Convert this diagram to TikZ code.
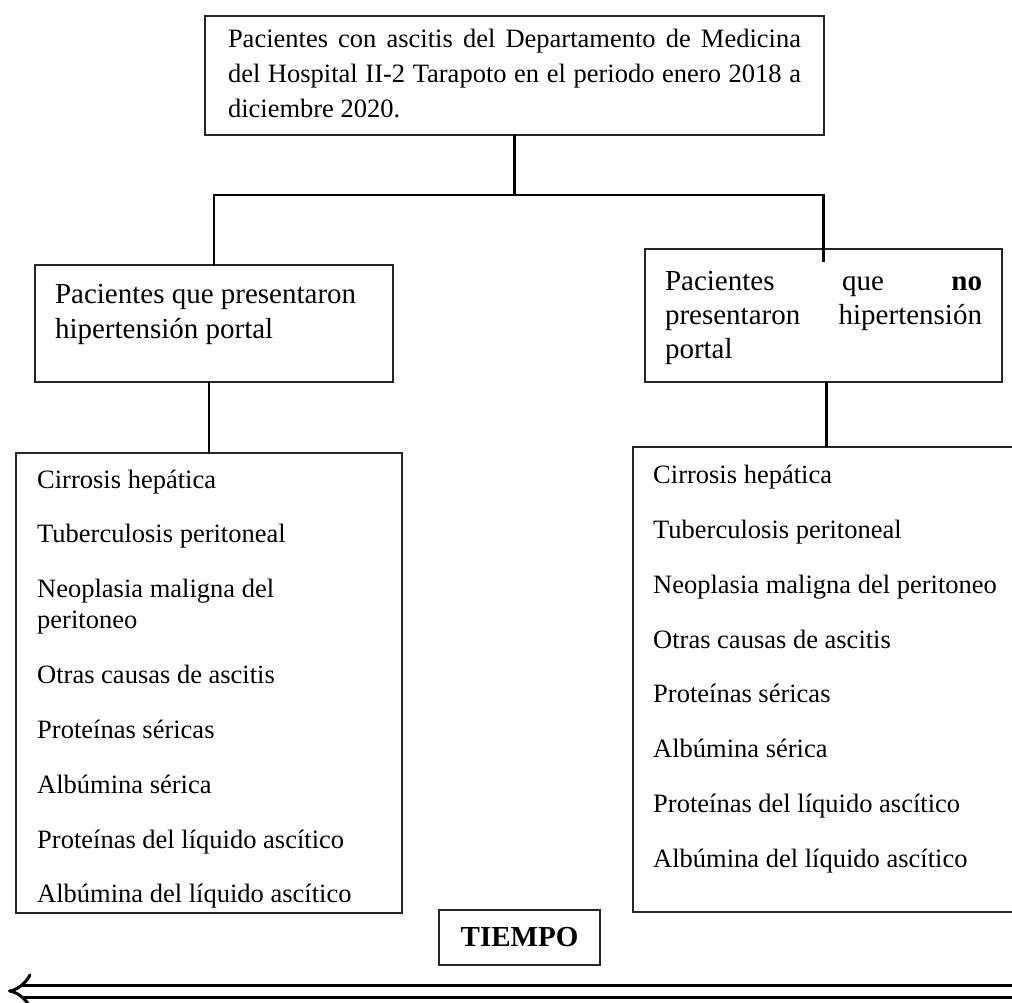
\documentclass[tikz,border=0pt]{standalone}
\usepackage{fontspec}
\setmainfont{Liberation Serif}
\usetikzlibrary{arrows.meta,positioning}
\hyphenpenalty=10000
\exhyphenpenalty=10000

\begin{document}
\begin{tikzpicture}[x=1pt,y=-1pt,
  caja/.style={draw=black!85, line width=1.2pt, inner ysep=0pt, outer sep=0pt, anchor=north west},
  enlace/.style={line width=2.4pt},
  every node/.style={font=\fontsize{26.5}{35}\selectfont}]
  \useasboundingbox (0,0) rectangle (1012,1002);
  % poblacion
  \node[caja, inner xsep=23pt] (pob) at (205,16)
    {\parbox[t][119pt][t]{573pt}{\rule{0pt}{31pt}Pacientes con ascitis del Departamento de Medicina\linebreak del Hospital II-2 Tarapoto en el periodo enero 2018 a\linebreak diciembre 2020.}};
  % grupos
  \node[caja, inner xsep=20pt, font=\fontsize{29}{35}\selectfont] (conhp) at (35,265)
    {\parbox[t][117pt][t]{318pt}{\raggedright\rule{0pt}{38pt}Pacientes que presentaron hipertensión portal}};
  \node[caja, inner xsep=20pt, font=\fontsize{29}{34}\selectfont] (sinhp) at (645,249)
    {\parbox[t][133pt][t]{317pt}{\rule{0pt}{41pt}Pacientes que \textbf{no}\linebreak presentaron hipertensión\linebreak portal}};
  % variables
  \node[caja, minimum width=386pt, minimum height=460pt] (listhp) at (16,453) {};
  \node[caja, minimum width=420pt, minimum height=465pt] (listsin) at (633,447) {};
  \foreach \y/\lab [count=\i] in {488/Cirrosis hepática, 542/Tuberculosis peritoneal,
      597/Neoplasia maligna del, 628/peritoneo, 683/Otras causas de ascitis,
      738/Proteínas séricas, 793/Albúmina sérica, 848/Proteínas del líquido ascítico,
      902/Albúmina del líquido ascítico} {
    \node[anchor=base west, inner sep=0pt] (hp\i) at (37,\y) {\lab};
  }
  \foreach \y/\lab [count=\i] in {483/Cirrosis hepática, 538/Tuberculosis peritoneal,
      593/Neoplasia maligna del peritoneo, 648/Otras causas de ascitis,
      702/Proteínas séricas, 757/Albúmina sérica, 812/Proteínas del líquido ascítico,
      867/Albúmina del líquido ascítico} {
    \node[anchor=base west, inner sep=0pt] (sin\i) at (653,\y) {\lab};
  }
  % conexiones
  \draw[enlace] (pob.south) -- ++(0,60) coordinate (nudo);
  \draw[enlace] (conhp.north) |- (nudo) -| ([yshift=-13pt]sinhp.north);
  \draw[enlace] (conhp.south -| listhp.north) -- (listhp.north);
  \draw[enlace] ([xshift=3pt]sinhp.south) -- ([xshift=3pt]sinhp.south |- listsin.north);
  % tiempo
  \node[caja, anchor=center, minimum width=161pt, minimum height=55pt,
    font=\bfseries\fontsize{29}{35}\selectfont] (tiempo) at (519.5,937.5) {TIEMPO};
  \coordinate (ini) at (1030,991);
  \coordinate (fin) at (8,991);
  \draw[line width=3pt, double, double distance=9pt, -{Implies}] (ini) -- (fin);
\end{tikzpicture}
\end{document}
